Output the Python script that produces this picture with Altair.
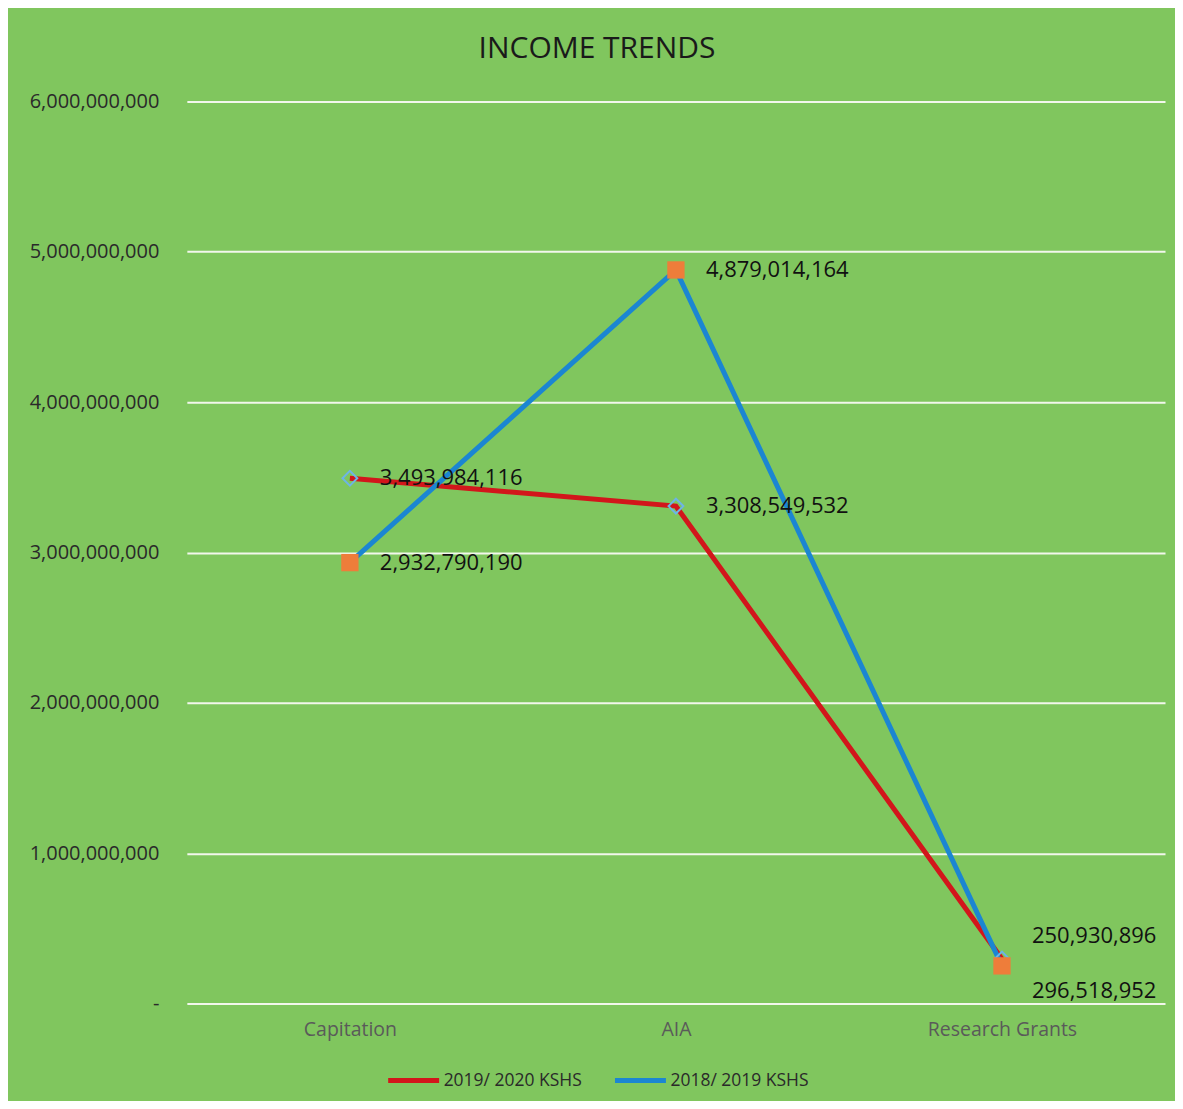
import altair as alt
import pandas as pd

categories = ["Capitation", "AIA", "Research Grants"]
series_names = ["2019/ 2020 KSHS", "2018/ 2019 KSHS"]
values_2019_2020 = [3493984116, 3308549532, 296518952]
values_2018_2019 = [2932790190, 4879014164, 250930896]
y_ticks = [0, 1000000000, 2000000000, 3000000000, 4000000000, 5000000000, 6000000000]

rows = []
for c, v in zip(categories, values_2019_2020):
    rows.append({"category": c, "series": series_names[0], "value": v})
for c, v in zip(categories, values_2018_2019):
    rows.append({"category": c, "series": series_names[1], "value": v})
df = pd.DataFrame(rows)
df["label"] = df["value"].map(lambda v: f"{v:,}")

FONT = "Open Sans"
BG = "#80C65E"
RED = "#D2161B"
BLUE = "#1B86D2"
ORANGE = "#EE7D3A"

x_enc = alt.X("category:N", sort=categories, title=None,
              scale=alt.Scale(type="point", padding=0.5),
              axis=alt.Axis(labelFont=FONT, labelFontSize=19.5, labelColor="#5a5a5a",
                            labelPadding=17, ticks=False, domain=False, grid=False,
                            labelAngle=0))
y_enc = alt.Y("value:Q", title=None,
              scale=alt.Scale(domain=[0, 6000000000], nice=False),
              axis=alt.Axis(values=y_ticks, labelFont=FONT, labelFontSize=20,
                            labelColor="#2a2a2a", labelPadding=28, ticks=False,
                            domain=False, gridColor="#F2F7EC", gridWidth=2,
                            labelExpr="datum.value == 0 ? '-' : format(datum.value, ',')"))

color_scale = alt.Scale(domain=series_names, range=[RED, BLUE])

base = alt.Chart(df)

line_red = base.transform_filter(alt.datum.series == series_names[0]).mark_line(
    strokeWidth=5).encode(
    x=x_enc, y=y_enc,
    color=alt.Color("series:N", scale=color_scale, sort=series_names,
                    legend=alt.Legend(title=None, orient="none", direction="horizontal",
                                      legendX=199, legendY=952,
                                      symbolType="stroke", symbolStrokeWidth=5,
                                      symbolSize=2600, labelFont=FONT, labelFontSize=17.5,
                                      labelColor="#2a2a2a", columnPadding=22,
                                      labelOffset=2)))
line_blue = base.transform_filter(alt.datum.series == series_names[1]).mark_line(
    strokeWidth=5).encode(x=x_enc, y=y_enc, color=alt.Color("series:N", scale=color_scale))

pts_red = base.transform_filter(alt.datum.series == series_names[0]).mark_point(
    shape="diamond", filled=False, size=220, stroke="#6DB4E6", strokeWidth=2,
    opacity=1).encode(x=x_enc, y=y_enc)
pts_blue = base.transform_filter(alt.datum.series == series_names[1]).mark_square(
    size=300, color=ORANGE, opacity=1).encode(x=x_enc, y=y_enc)

text_common = dict(align="left", baseline="middle", font=FONT, fontSize=22,
                   color="#111111", dx=30)
labels_main = base.transform_filter(alt.datum.category != "Research Grants").mark_text(
    **text_common).encode(x=x_enc, y=y_enc, text="label:N")
labels_rg_blue = base.transform_filter(
    (alt.datum.category == "Research Grants") & (alt.datum.series == series_names[1])
).mark_text(dy=-30, **text_common).encode(x=x_enc, y=y_enc, text="label:N")
labels_rg_red = base.transform_filter(
    (alt.datum.category == "Research Grants") & (alt.datum.series == series_names[0])
).mark_text(dy=32, **text_common).encode(x=x_enc, y=y_enc, text="label:N")

chart = alt.layer(line_red, line_blue, pts_red, pts_blue,
                  labels_main, labels_rg_blue, labels_rg_red).properties(
    width=979, height=903,
    title=alt.TitleParams("INCOME TRENDS", font=FONT, fontSize=30, fontWeight="normal",
                          color="#1a1a1a", anchor="middle", frame="bounds", offset=27),
    padding={"left": 21, "top": 26, "right": 10, "bottom": 10},
    background=BG,
).configure_view(stroke=None, fill=BG)

chart.save("out.html", embed_options={"renderer": "svg", "actions": False})
